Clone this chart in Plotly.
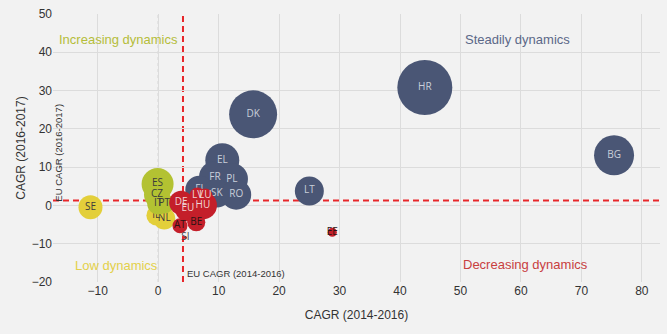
import plotly.graph_objects as go

# ---- data ----
blue_names = ["HR", "DK", "BG", "LT", "EL", "FR", "PL", "FI", "SK", "RO"]
blue_x = [44.1, 15.7, 75.4, 25.0, 10.6, 9.4, 12.2, 6.8, 9.7, 12.9]
blue_y = [30.8, 23.8, 13.1, 3.8, 11.8, 7.4, 6.9, 4.1, 3.1, 2.8]
blue_size = [55, 48, 40, 29, 34, 32, 32, 28, 28, 30]

yellow_names = ["SE", "IE", "NL"]
yellow_x = [-11.2, -0.3, 1.0]
yellow_y = [-0.5, -2.6, -3.4]
yellow_size = [24, 20, 22]

olive_names = ["ES", "CZ", "IT", "PT"]
olive_x = [-0.1, -0.2, 0.0, 1.0]
olive_y = [5.6, 2.8, 0.5, 0.5]
olive_size = [32, 26, 22, 20]

red_names = ["DE", "EU", "HU", "LV", "LU", "AT", "BE", "EE"]
red_x = [3.8, 4.9, 7.4, 6.5, 7.8, 3.6, 6.3, 28.8]
red_y = [0.7, -0.8, 0.0, 2.6, 2.6, -5.3, -4.4, -7.0]
red_size = [24, 26, 28, 16, 14, 15, 18, 9]

small_names = ["SI"]
small_x = [4.5]
small_y = [-8.4]
small_size = [3]

eu_x = 4.1   # EU CAGR (2014-2016)
eu_y = 1.3   # EU CAGR (2016-2017)

x_ticks = [-10, 0, 10, 20, 30, 40, 50, 60, 70, 80]
y_ticks = [-20, -10, 0, 10, 20, 30, 40, 50]

BLUE = "#4a5675"
YELLOW = "#e3cf3a"
OLIVE = "#b3c232"
RED = "#c41f2a"
BG = "#f2f2f2"
SANS = "Liberation Sans, Arial, sans-serif"
TXT = "Open Sans, Noto Sans, sans-serif"

fig = go.Figure()

def add(names, xs, ys, sizes, color, tcolors, tsize=10):
    fig.add_trace(go.Scatter(
        x=xs, y=ys, mode="markers+text", text=names,
        textposition="middle center",
        textfont=dict(family=TXT, size=tsize, color=tcolors),
        marker=dict(size=sizes, sizemode="diameter", color=color,
                    line=dict(width=0), opacity=1),
        hoverinfo="skip", showlegend=False, cliponaxis=False))

add(blue_names, blue_x, blue_y, blue_size, BLUE, "#c9cfda")
add(yellow_names, yellow_x, yellow_y, yellow_size, YELLOW, "#3c3c3c")
add(olive_names, olive_x, olive_y, olive_size, OLIVE, "#3c3c3c")
red_tc = ["#f1d6d6", "#f1d6d6", "#f1d6d6", "#f1d6d6", "#f1d6d6",
          "#2a1414", "#2a1414", "#2a1414"]
add(red_names, red_x, red_y, red_size, RED, red_tc)
add(small_names, small_x, small_y, small_size, RED, "#444444")

# dotted zero lines
fig.add_shape(type="line", xref="x", yref="paper", x0=0, x1=0, y0=0, y1=1,
              line=dict(color="#c4c4c4", width=1, dash="dot"), layer="below")
fig.add_shape(type="line", xref="paper", yref="y", x0=0, x1=1, y0=0, y1=0,
              line=dict(color="#c4c4c4", width=1, dash="dot"), layer="below")
# EU reference lines
fig.add_shape(type="line", xref="x", yref="paper", x0=eu_x, x1=eu_x, y0=0, y1=1,
              line=dict(color="#e8262a", width=2, dash="6px,4px"), layer="below")
fig.add_shape(type="line", xref="paper", yref="y", x0=0, x1=1, y0=eu_y, y1=eu_y,
              line=dict(color="#e8262a", width=2, dash="6px,4px"), layer="below")

def note(text, x, y, color, size=13, xanchor="center", angle=0, yanchor="middle"):
    fig.add_annotation(x=x, y=y, text=text, showarrow=False, xanchor=xanchor,
                       yanchor=yanchor, textangle=angle,
                       font=dict(family=SANS, size=size, color=color))

note("Increasing dynamics", -6.6, 43.3, "#b5bd3a")
note("Steadily dynamics", 59.5, 43.3, "#5b6888")
note("Low dynamics", -6.9, -15.6, "#e3d04a")
note("Decreasing dynamics", 60.7, -15.4, "#c8403f")
note("EU CAGR (2014-2016)", 4.4, -17.9, "#333333", size=9.5, xanchor="left")
note("EU CAGR (2016-2017)", -16.4, 13.8, "#333333", size=9.5, angle=-90)

fig.update_layout(
    width=667, height=334,
    margin=dict(l=53, r=7, t=8, b=52),
    paper_bgcolor=BG, plot_bgcolor=BG,
    font=dict(family=SANS, size=12, color="#333333"),
    xaxis=dict(range=[-17.4, 83], tickvals=x_ticks, showgrid=True,
               gridcolor="#dcdcdc", gridwidth=1, zeroline=False,
               showline=False, ticks="",
               title=dict(text="CAGR (2014-2016)", standoff=13,
                          font=dict(family=SANS, size=12, color="#333333")),
               tickfont=dict(family=SANS, size=12, color="#333333")),
    yaxis=dict(range=[-20, 50], tickvals=y_ticks, showgrid=True,
               gridcolor="#dcdcdc", gridwidth=1, zeroline=False,
               showline=False, ticks="",
               title=dict(text="CAGR (2016-2017)", standoff=3,
                          font=dict(family=SANS, size=12, color="#333333")),
               tickfont=dict(family=SANS, size=12, color="#333333")),
)

fig.write_html("out.html")
